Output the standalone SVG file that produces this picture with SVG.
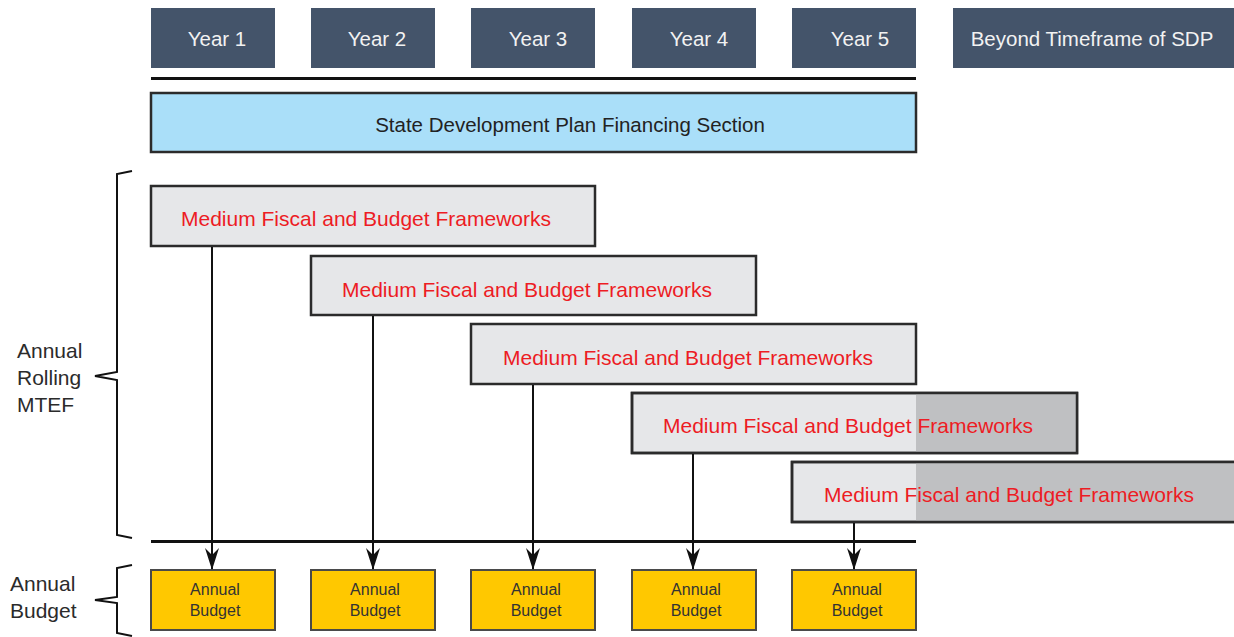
<svg xmlns="http://www.w3.org/2000/svg" width="1234" height="637" viewBox="0 0 1234 637">
  <defs>
    <style>
      text { font-family: "Liberation Sans", Arial, sans-serif; }
      .year rect { fill: #44546a; }
      .year text { fill: #f2f2f2; font-size: 20.5px; text-anchor: middle; }
      .mtef rect { fill: #e6e7e9; stroke: #2b2b2b; stroke-width: 2.5; }
      .mtef rect.shade { fill: #bfc0c2; stroke: none; }
      .mtef rect.frame { fill: none; }
      .mtef text { fill: #ed1c24; font-size: 21px; }
      .budget rect { fill: #ffc800; stroke: #4a4a4a; stroke-width: 2; }
      .budget text { fill: #333; font-size: 16px; text-anchor: middle; }
      .label { fill: #2b2b2b; font-size: 21px; }
      .rule { stroke: #111; stroke-width: 3; }
      .brace { fill: none; stroke: #111; stroke-width: 2; }
      .conn line { stroke: #111; stroke-width: 2; }
    </style>
    <marker id="arrow" viewBox="0 0 22 14" refX="21" refY="7" markerWidth="22" markerHeight="14" markerUnits="userSpaceOnUse" orient="auto">
      <path d="M0,0 L22,7 L0,14 L7,7 Z" fill="#111"/>
    </marker>
    <clipPath id="clip4"><rect x="632" y="393" width="445" height="60"/></clipPath>
    <clipPath id="clip5"><rect x="792" y="462" width="442" height="60"/></clipPath>
  </defs>

  <!-- timeline header -->
  <g id="year1" class="year"><rect x="151" y="8" width="124" height="60"/><text x="217" y="46">Year 1</text></g>
  <g id="year2" class="year"><rect x="311" y="8" width="124" height="60"/><text x="377" y="46">Year 2</text></g>
  <g id="year3" class="year"><rect x="471" y="8" width="124" height="60"/><text x="538" y="46">Year 3</text></g>
  <g id="year4" class="year"><rect x="632" y="8" width="124" height="60"/><text x="699" y="46">Year 4</text></g>
  <g id="year5" class="year"><rect x="792" y="8" width="124" height="60"/><text x="860" y="46">Year 5</text></g>
  <g id="beyond" class="year"><rect x="953" y="8" width="281" height="60"/><text x="1092" y="46">Beyond Timeframe of SDP</text></g>

  <line class="rule" x1="151" y1="78.5" x2="916" y2="78.5"/>

  <g id="sdp">
    <rect x="151" y="93" width="765" height="59" fill="#aadff9" stroke="#2b2b2b" stroke-width="2.5"/>
    <text x="570" y="132" font-size="20.5" fill="#222" text-anchor="middle">State Development Plan Financing Section</text>
  </g>

  <!-- rolling frameworks -->
  <g id="mtef1" class="mtef"><rect x="151" y="186" width="444" height="60"/><text x="181" y="226">Medium Fiscal and Budget Frameworks</text></g>
  <g id="mtef2" class="mtef"><rect x="311" y="256" width="445" height="59"/><text x="342" y="297">Medium Fiscal and Budget Frameworks</text></g>
  <g id="mtef3" class="mtef"><rect x="471" y="324" width="445" height="60"/><text x="503" y="365">Medium Fiscal and Budget Frameworks</text></g>
  <g id="mtef4" class="mtef">
    <rect x="632" y="393" width="445" height="60"/>
    <rect class="shade" x="916" y="393" width="161" height="60" clip-path="url(#clip4)"/>
    <rect class="frame" x="632" y="393" width="445" height="60"/>
    <text x="663" y="433">Medium Fiscal and Budget Frameworks</text>
  </g>
  <g id="mtef5" class="mtef">
    <rect x="792" y="462" width="444" height="60"/>
    <rect class="shade" x="916" y="462" width="320" height="60" clip-path="url(#clip5)"/>
    <rect class="frame" x="792" y="462" width="444" height="60"/>
    <text x="824" y="502">Medium Fiscal and Budget Frameworks</text>
  </g>

  <line class="rule" x1="151" y1="541.5" x2="916" y2="541.5"/>

  <!-- budgets -->
  <g id="budget1" class="budget"><rect x="151" y="570" width="124" height="60"/><text x="215" y="595">Annual</text><text x="215" y="616">Budget</text></g>
  <g id="budget2" class="budget"><rect x="311" y="570" width="124" height="60"/><text x="375" y="595">Annual</text><text x="375" y="616">Budget</text></g>
  <g id="budget3" class="budget"><rect x="471" y="570" width="124" height="60"/><text x="536" y="595">Annual</text><text x="536" y="616">Budget</text></g>
  <g id="budget4" class="budget"><rect x="632" y="570" width="124" height="60"/><text x="696" y="595">Annual</text><text x="696" y="616">Budget</text></g>
  <g id="budget5" class="budget"><rect x="792" y="570" width="124" height="60"/><text x="857" y="595">Annual</text><text x="857" y="616">Budget</text></g>

  <!-- connectors -->
  <g id="connectors" class="conn">
    <line x1="212" y1="247" x2="212" y2="569" marker-end="url(#arrow)"/>
    <line x1="373" y1="316" x2="373" y2="569" marker-end="url(#arrow)"/>
    <line x1="533" y1="385" x2="533" y2="569" marker-end="url(#arrow)"/>
    <line x1="693" y1="454" x2="693" y2="569" marker-end="url(#arrow)"/>
    <line x1="854" y1="523" x2="854" y2="569" marker-end="url(#arrow)"/>
  </g>

  <!-- side braces and labels -->
  <g id="brace-mtef">
    <path class="brace" d="M132,171 L117,174 L117,372 L95,376 L117,380 L117,535 L132,538"/>
    <text class="label" x="17" y="358">Annual</text>
    <text class="label" x="17" y="385">Rolling</text>
    <text class="label" x="17" y="412">MTEF</text>
  </g>
  <g id="brace-budget">
    <path class="brace" d="M132,565 L117,568 L117,597 L95,600 L117,603 L117,633 L132,636"/>
    <text class="label" x="10" y="591">Annual</text>
    <text class="label" x="10" y="618">Budget</text>
  </g>
</svg>
